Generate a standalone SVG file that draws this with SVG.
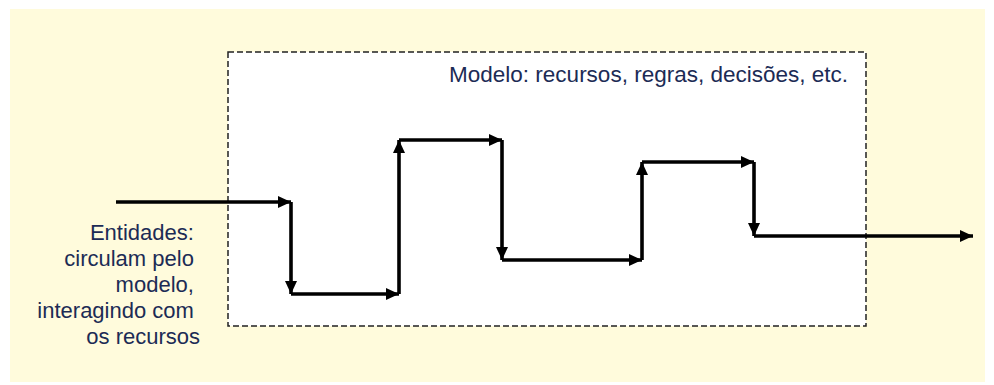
<svg xmlns="http://www.w3.org/2000/svg" width="994" height="385" viewBox="0 0 994 385">
<defs>
<style>
.lbl{font-family:"Liberation Sans",Arial,sans-serif;font-size:22px;fill:#1c2b55}
.flow{fill:none;stroke:#000;stroke-width:3.6;stroke-linejoin:miter}
</style>
<marker id="ah" markerUnits="userSpaceOnUse" markerWidth="16" markerHeight="14" refX="13" refY="7" orient="auto">
<path d="M0,1 L13,7 L0,13 Z" fill="#000"/>
</marker>
</defs>
<rect x="10" y="9" width="975" height="373" fill="#fffbdc"/>
<g id="modelo">
<rect x="228" y="52" width="638" height="274" fill="#fff" stroke="#222" stroke-width="1.5" stroke-dasharray="6,3"/>
<text class="lbl" x="848" y="82" text-anchor="end" style="font-size:22.5px">Modelo: recursos, regras, decisões, etc.</text>
</g>
<g id="entidades">
<text class="lbl" text-anchor="end">
<tspan x="200" y="240">Entidades:</tspan>
<tspan x="200" y="266">circulam pelo</tspan>
<tspan x="200" y="292">modelo,</tspan>
<tspan x="200" y="318">interagindo com</tspan>
<tspan x="200" y="344">os recursos</tspan>
</text>
</g>
<g id="connectors">
<path class="flow" d="M116,202 H291" marker-end="url(#ah)"/>
<path class="flow" d="M291,202 V294" marker-end="url(#ah)"/>
<path class="flow" d="M291,294 H399" marker-end="url(#ah)"/>
<path class="flow" d="M399,294 V140" marker-end="url(#ah)"/>
<path class="flow" d="M399,140 H502" marker-end="url(#ah)"/>
<path class="flow" d="M502,140 V260" marker-end="url(#ah)"/>
<path class="flow" d="M502,260 H642" marker-end="url(#ah)"/>
<path class="flow" d="M642,260 V162" marker-end="url(#ah)"/>
<path class="flow" d="M642,162 H754" marker-end="url(#ah)"/>
<path class="flow" d="M754,162 V236" marker-end="url(#ah)"/>
<path class="flow" d="M754,236 H973" marker-end="url(#ah)"/>
</g>
</svg>
